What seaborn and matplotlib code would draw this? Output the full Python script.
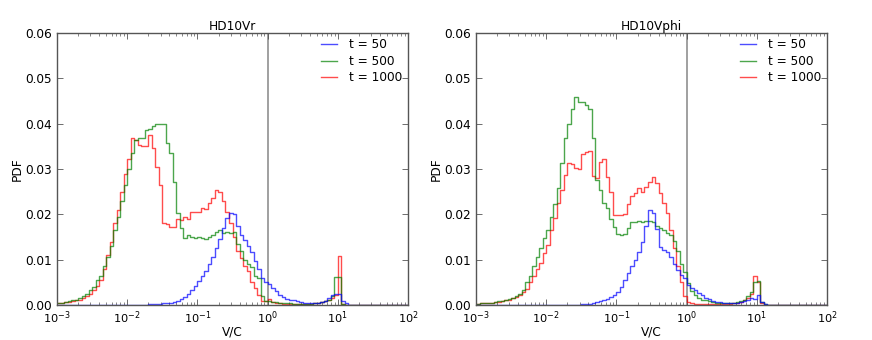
import numpy as np
import pandas as pd
import matplotlib
matplotlib.use("Agg")
import matplotlib.pyplot as plt
from matplotlib.lines import Line2D
from matplotlib.ticker import FormatStrFormatter, LogLocator
import seaborn as sns

# ---------------- data ----------------
# Histogram of V/C: 100 logarithmic bins (20 per decade) from 1e-3 to 1e2.
# PDF values per bin, in units of 1e-3.
log_lo, log_hi, n_bins = -3, 2, 100
series_labels = ["t = 50", "t = 500", "t = 1000"]
series_colors = ["#0000ff", "#008000", "#ff0000"]
panel_titles = ["HD10Vr", "HD10Vphi"]
y_ticks = [0.00, 0.01, 0.02, 0.03, 0.04, 0.05, 0.06]

vr_t50 = [
    0, 0, 0, 0, 0, 0, 0, 0, 0, 0, 0, 0, 0, 0, 0, 0, 0, 0, 0, 0,
    0, 0.05, 0.05, 0.1, 0.1, 0.1, 0.15, 0.2, 0.25, 0.3, 0.35, 0.4, 0.5, 0.6, 0.9, 1.3, 1.8, 2.5, 3.3, 4.3,
    5.2, 6.3, 7.6, 9.0, 10.6, 12.5, 14.5, 17.0, 19.2, 20.3, 20.0, 17.5, 15.5, 14.3, 13.0, 11.6, 9.8, 8.0, 6.0, 5.0,
    4.6, 3.8, 3.0, 2.3, 1.8, 1.4, 1.2, 1.0, 0.8, 0.7, 0.5, 0.4, 0.4, 0.4, 0.5, 0.6, 0.9, 1.5, 2.2, 2.5,
    2.5, 0.9, 0.4, 0.1, 0.05, 0, 0, 0, 0, 0, 0, 0, 0, 0, 0, 0, 0, 0, 0, 0,
]
vr_t500 = [
    0.4, 0.5, 0.6, 0.8, 1.0, 1.2, 1.5, 1.9, 2.5, 3.2, 4.0, 5.5, 6.5, 8.5, 10.5, 13.0, 16.5, 19.5, 23.0, 26.5,
    30.0, 33.5, 36.4, 36.8, 36.8, 38.6, 38.8, 39.4, 39.9, 39.9, 40.0, 35.7, 33.5, 27.2, 20.2, 16.9, 14.7, 15.5, 15.1, 14.7,
    15.1, 14.7, 14.5, 15.0, 15.5, 16.2, 16.6, 15.8, 16.0, 15.8, 16.2, 13.5, 12.0, 10.0, 9.0, 8.3, 6.5, 6.0, 2.0, 0.9,
    0.8, 0.7, 0.6, 0.5, 0.4, 0.4, 0.4, 0.3, 0.3, 0.3, 0.3, 0.3, 0.3, 0.4, 0.5, 0.6, 0.8, 1.2, 2.0, 6.1,
    6.1, 0.3, 0.1, 0, 0, 0, 0, 0, 0, 0, 0, 0, 0, 0, 0, 0, 0, 0, 0, 0,
]
vr_t1000 = [
    0.4, 0.5, 0.6, 0.7, 0.8, 1.0, 1.2, 1.5, 2.0, 2.5, 3.2, 4.2, 5.5, 8.0, 11.0, 14.0, 18.0, 21.0, 25.0, 29.0,
    32.2, 36.8, 36.4, 35.3, 35.0, 35.0, 37.5, 34.6, 30.5, 26.5, 18.0, 17.8, 17.3, 17.3, 19.0, 18.8, 19.4, 19.0, 20.5, 20.6,
    20.5, 21.5, 21.2, 22.4, 23.5, 25.4, 25.0, 23.0, 20.5, 18.0, 15.0, 12.0, 10.3, 8.5, 7.4, 5.0, 3.7, 2.3, 0.9, 0.8,
    1.3, 0.6, 0.5, 0.4, 0.3, 0.3, 0.3, 0.3, 0.3, 0.3, 0.3, 0.3, 0.3, 0.4, 0.5, 0.6, 0.8, 1.0, 1.6, 2.2,
    10.8, 0.3, 0.1, 0, 0, 0, 0, 0, 0, 0, 0, 0, 0, 0, 0, 0, 0, 0, 0, 0,
]

vphi_t50 = [
    0, 0, 0, 0, 0, 0, 0, 0, 0, 0, 0, 0, 0, 0, 0, 0, 0, 0, 0, 0,
    0, 0, 0.05, 0.05, 0.05, 0.05, 0.1, 0.1, 0.1, 0.1, 0.15, 0.2, 0.3, 0.4, 0.6, 0.8, 1.0, 1.4, 1.8, 2.3,
    2.9, 4.0, 5.5, 7.0, 8.5, 9.9, 11.8, 14.0, 17.5, 21.0, 20.2, 16.8, 12.8, 12.1, 11.6, 10.5, 9.0, 7.7, 6.6, 5.9,
    4.4, 3.8, 3.3, 2.6, 2.1, 1.6, 1.3, 0.9, 0.7, 0.6, 0.5, 0.4, 0.4, 0.4, 0.5, 0.7, 0.9, 1.2, 1.5, 1.3,
    2.2, 0.7, 0.3, 0.1, 0, 0, 0, 0, 0, 0, 0, 0, 0, 0, 0, 0, 0, 0, 0, 0,
]
vphi_t500 = [
    0.3, 0.35, 0.4, 0.5, 0.55, 0.65, 0.8, 0.9, 1.1, 1.3, 1.6, 2.0, 2.5, 3.2, 5.0, 6.5, 8.5, 10.5, 12.5, 14.7,
    16.5, 19.5, 22.3, 25.7, 31.3, 36.8, 40.0, 43.2, 45.8, 44.8, 44.8, 44.2, 43.3, 36.8, 27.6, 25.4, 22.6, 21.3, 18.9, 17.1,
    15.6, 15.5, 15.6, 17.0, 18.4, 18.2, 18.5, 18.3, 18.5, 18.5, 18.4, 17.5, 17.0, 16.5, 15.9, 15.5, 14.1, 11.9, 9.0, 7.3,
    4.9, 3.0, 2.2, 1.6, 1.2, 1.0, 0.8, 0.6, 0.5, 0.5, 0.4, 0.4, 0.4, 0.5, 0.6, 0.8, 1.2, 2.0, 2.9, 5.0,
    5.2, 0.6, 0.2, 0, 0, 0, 0, 0, 0, 0, 0, 0, 0, 0, 0, 0, 0, 0, 0, 0,
]
vphi_t1000 = [
    0.3, 0.35, 0.4, 0.45, 0.5, 0.6, 0.7, 0.85, 1.0, 1.2, 1.5, 1.8, 2.2, 2.8, 3.6, 5.0, 6.5, 8.0, 9.2, 11.4,
    13.2, 16.6, 19.2, 22.4, 25.4, 28.7, 31.3, 31.0, 30.2, 30.0, 33.2, 33.7, 34.0, 28.5, 28.0, 31.6, 32.2, 28.3, 25.0, 19.8,
    19.8, 19.9, 20.0, 22.3, 24.0, 24.7, 25.7, 25.0, 26.1, 27.2, 28.3, 26.9, 24.7, 22.4, 20.2, 16.5, 12.5, 8.5, 5.0, 2.0,
    0.6, 0.4, 0.3, 0.3, 0.3, 0.3, 0.3, 0.3, 0.3, 0.3, 0.3, 0.3, 0.3, 0.4, 0.5, 0.6, 1.0, 1.5, 2.5, 6.3,
    5.0, 0.4, 0.1, 0, 0, 0, 0, 0, 0, 0, 0, 0, 0, 0, 0, 0, 0, 0, 0, 0,
]

panels = [
    (panel_titles[0], [vr_t50, vr_t500, vr_t1000]),
    (panel_titles[1], [vphi_t50, vphi_t500, vphi_t1000]),
]

# ---------------- style ----------------
FS = 8.7
plt.rcParams.update({
    "font.family": ["DejaVu Sans"],
    "font.size": FS,
    "mathtext.fontset": "dejavusans",
    "mathtext.default": "regular",
    "xtick.direction": "in",
    "ytick.direction": "in",
    "xtick.top": True,
    "ytick.right": True,
    "xtick.major.size": 4,
    "ytick.major.size": 4,
    "xtick.minor.size": 2,
    "ytick.minor.size": 2,
    "xtick.major.width": 0.6,
    "ytick.major.width": 0.6,
    "xtick.minor.width": 0.5,
    "axes.linewidth": 1.0,
    "axes.edgecolor": "#555555",
    "xtick.color": "#555555",
    "ytick.color": "#555555",
    "xtick.labelcolor": "black",
    "ytick.labelcolor": "black",
})

W, H = 872, 340
fig = plt.figure(figsize=(W / 100, H / 100), dpi=100)
fig.patch.set_facecolor("white")
axes = [
    fig.add_axes([57 / W, 35 / H, 351 / W, 272 / H]),
    fig.add_axes([476 / W, 35 / H, 351 / W, 272 / H]),
]

log_centers = log_lo + (np.arange(n_bins) + 0.5) * (log_hi - log_lo) / n_bins

for ax, (title, series) in zip(axes, panels):
    frames = []
    for lab, vals in zip(series_labels, series):
        frames.append(pd.DataFrame({
            "vc": 10.0 ** log_centers,
            "pdf": np.asarray(vals, dtype=float) * 1e-3,
            "series": lab,
        }))
    df = pd.concat(frames, ignore_index=True)
    ax.axvline(1.0, color="#999999", lw=1.3, zorder=1)
    sns.histplot(
        data=df, x="vc", weights="pdf", hue="series",
        hue_order=series_labels, palette=series_colors,
        bins=n_bins, binrange=(log_lo, log_hi), log_scale=True,
        element="step", fill=False, stat="count", common_bins=True,
        legend=False, alpha=0.7, linewidth=1.0, ax=ax,
    )
    ax.set_xlim(10.0 ** log_lo, 10.0 ** log_hi)
    ax.set_ylim(y_ticks[0], y_ticks[-1])
    ax.set_yticks(y_ticks)
    ax.yaxis.set_major_formatter(FormatStrFormatter("%.2f"))
    ax.xaxis.set_major_locator(LogLocator(base=10, numticks=10))
    ax.xaxis.set_minor_locator(LogLocator(base=10, subs=np.arange(2, 10), numticks=20))
    ax.set_xlabel("V/C", fontsize=FS, labelpad=0)
    ax.set_ylabel("PDF", fontsize=FS, labelpad=1.5)
    ax.set_title(title, fontsize=FS, pad=2.5)
    ax.tick_params(axis="y", labelsize=FS, pad=3.5)
    ax.tick_params(axis="x", labelsize=8.2, pad=3)
    ax.set_facecolor("white")

    handles = [Line2D([], [], color=c, alpha=0.7, lw=1.0) for c in series_colors]
    ax.legend(handles, series_labels, loc="upper right", frameon=False,
              fontsize=FS, handlelength=1.35, handletextpad=1.0,
              labelspacing=0.28, borderaxespad=0.05)

fig.savefig("out.png", dpi=100, facecolor="white")
